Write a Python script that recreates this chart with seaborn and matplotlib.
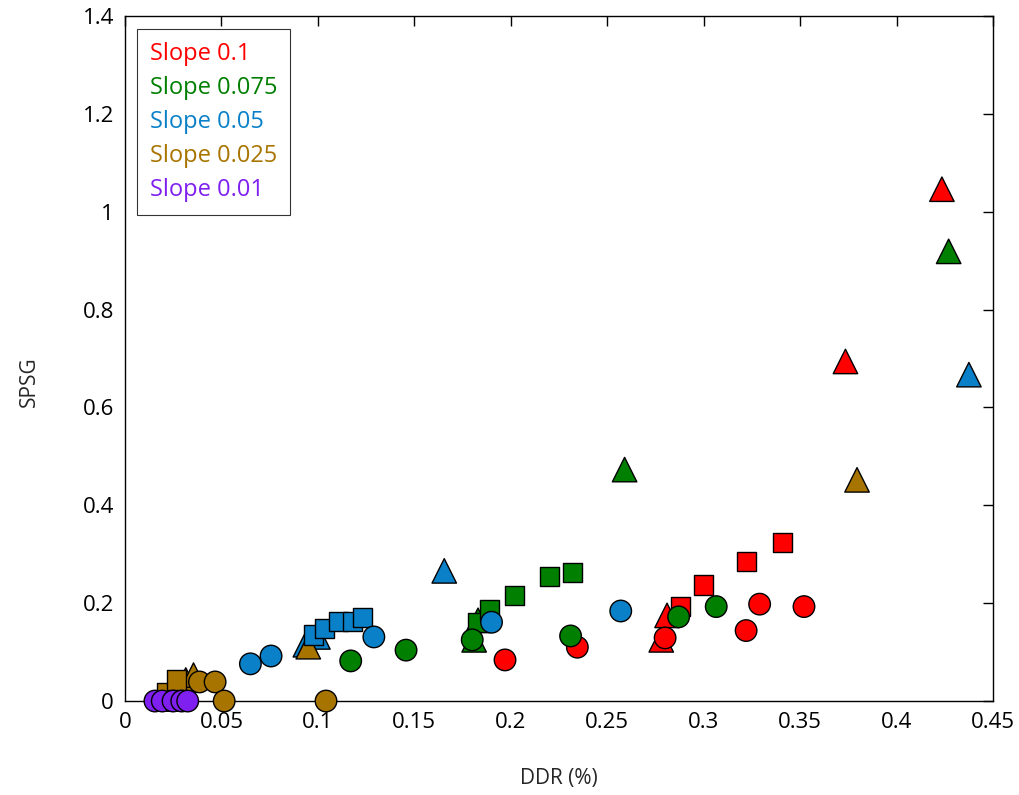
import matplotlib
matplotlib.use("Agg")
import matplotlib.pyplot as plt
import seaborn as sns
import pandas as pd
from matplotlib.lines import Line2D

# values, one list per slope and marker shape
red_circ_x = [0.197, 0.2345, 0.280, 0.322, 0.329, 0.352]
red_circ_y = [0.084, 0.110, 0.129, 0.144, 0.198, 0.193]
red_sq_x = [0.288, 0.300, 0.322, 0.341]
red_sq_y = [0.193, 0.237, 0.285, 0.324]
red_tri_x = [0.278, 0.281, 0.3735, 0.4235]
red_tri_y = [0.125, 0.175, 0.694, 1.046]

green_circ_x = [0.117, 0.1457, 0.180, 0.231, 0.287, 0.3065]
green_circ_y = [0.082, 0.104, 0.125, 0.133, 0.172, 0.193]
green_sq_x = [0.183, 0.189, 0.202, 0.220, 0.232]
green_sq_y = [0.160, 0.186, 0.215, 0.254, 0.263]
green_tri_x = [0.181, 0.183, 0.259, 0.427]
green_tri_y = [0.125, 0.165, 0.473, 0.919]

blue_circ_x = [0.065, 0.0757, 0.129, 0.190, 0.257]
blue_circ_y = [0.076, 0.092, 0.131, 0.161, 0.184]
blue_sq_x = [0.0975, 0.1035, 0.1105, 0.118, 0.123]
blue_sq_y = [0.135, 0.149, 0.162, 0.163, 0.170]
blue_tri_x = [0.0935, 0.100, 0.1655, 0.4375]
blue_tri_y = [0.115, 0.131, 0.266, 0.667]

gold_circ_x = [0.0386, 0.0467, 0.0514, 0.1042]
gold_circ_y = [0.039, 0.039, 0.0, 0.0]
gold_sq_x = [0.0213, 0.0269]
gold_sq_y = [0.018, 0.043]
gold_tri_x = [0.0315, 0.0355, 0.095, 0.3795]
gold_tri_y = [0.043, 0.053, 0.111, 0.452]

purple_circ_x = [0.0155, 0.0193, 0.0249, 0.0294, 0.0325]
purple_circ_y = [0.0, 0.0, 0.0, 0.0, 0.0]
purple_tri_x = [0.0244]
purple_tri_y = [0.004]

labels = ["Slope 0.1", "Slope 0.075", "Slope 0.05", "Slope 0.025", "Slope 0.01"]
colors = ["#FF0000", "#007F00", "#0A80C8", "#A87400", "#7F1FF0"]

series = {
    "Slope 0.1": [("o", red_circ_x, red_circ_y), ("s", red_sq_x, red_sq_y), ("^", red_tri_x, red_tri_y)],
    "Slope 0.075": [("o", green_circ_x, green_circ_y), ("s", green_sq_x, green_sq_y), ("^", green_tri_x, green_tri_y)],
    "Slope 0.05": [("o", blue_circ_x, blue_circ_y), ("s", blue_sq_x, blue_sq_y), ("^", blue_tri_x, blue_tri_y)],
    "Slope 0.025": [("o", gold_circ_x, gold_circ_y), ("s", gold_sq_x, gold_sq_y), ("^", gold_tri_x, gold_tri_y)],
    "Slope 0.01": [("o", purple_circ_x, purple_circ_y), ("^", purple_tri_x, purple_tri_y)],
}

rows = []
for lab in labels:
    for shape, xs, ys in series[lab]:
        for x, y in zip(xs, ys):
            rows.append({"DDR": x, "SPSG": y, "slope": lab, "shape": shape})
df = pd.DataFrame(rows)

sns.set_style("white")
plt.rcParams["font.family"] = ["Open Sans", "DejaVu Sans"]

fig = plt.figure(figsize=(10.19, 7.95), dpi=100)
ax = fig.add_axes([0.1227, 0.1182, 0.8518, 0.8617])

palette = dict(zip(labels, colors))
sizes = {"^": 310, "s": 190, "o": 240}
# triangles first, then squares, circles on top
for shape in ["^", "s", "o"]:
    sub = df[df["shape"] == shape]
    sns.scatterplot(data=sub, x="DDR", y="SPSG", hue="slope", hue_order=labels,
                    palette=palette, marker=shape, s=sizes[shape],
                    edgecolor="black", linewidth=1.0, legend=False, ax=ax,
                    clip_on=False, zorder=3)

ax.set_xlim(0, 0.45)
ax.set_ylim(0, 1.4)
ax.set_xticks([0, 0.05, 0.1, 0.15, 0.2, 0.25, 0.3, 0.35, 0.4, 0.45])
ax.set_xticklabels(["0", "0.05", "0.1", "0.15", "0.2", "0.25", "0.3", "0.35", "0.4", "0.45"])
ax.set_yticks([0, 0.2, 0.4, 0.6, 0.8, 1.0, 1.2, 1.4])
ax.set_yticklabels(["0", "0.2", "0.4", "0.6", "0.8", "1", "1.2", "1.4"])
ax.tick_params(direction="in", length=7, width=1, top=True, right=True,
               labelsize=16, pad=8, colors="black")
for sp in ax.spines.values():
    sp.set_color("black")
    sp.set_linewidth(1.0)
ax.set_xlabel("DDR (%)", fontsize=15, labelpad=25)
ax.set_ylabel("SPSG", fontsize=15)
ax.yaxis.set_label_coords(-0.098, 0.466)

handles = [Line2D([], [], linestyle="none", marker=None) for _ in labels]
leg = ax.legend(handles, labels, loc="upper left", bbox_to_anchor=(0.0138, 0.981),
                borderaxespad=0, handlelength=0, handletextpad=0, fontsize=17,
                frameon=True, fancybox=False, edgecolor="black", borderpad=0.55,
                labelspacing=0.42)
for txt, c in zip(leg.get_texts(), colors):
    txt.set_color(c)
leg.get_frame().set_linewidth(0.8)

fig.savefig("out.png", dpi=100)
